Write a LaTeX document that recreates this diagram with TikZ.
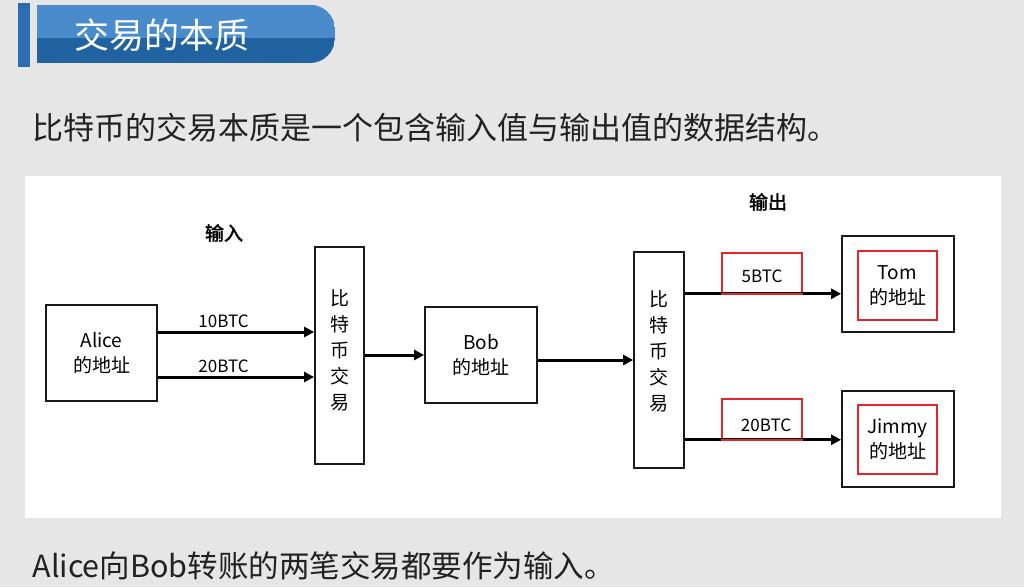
\documentclass[tikz,border=0pt]{standalone}
\usepackage{fontspec}
\newfontfamily\cjk[AutoFakeBold=2]{Noto Sans CJK SC}
\usetikzlibrary{arrows.meta}
\definecolor{bg}{HTML}{E6E6E6}
\definecolor{barlight}{HTML}{4A8CCB}
\definecolor{bardark}{HTML}{2163A1}
\definecolor{barside}{HTML}{2B6DAE}
\definecolor{redline}{HTML}{E8242B}
\definecolor{txt}{HTML}{222222}
\begin{document}
\begin{tikzpicture}[x=1pt,y=-1pt,font=\cjk,
  box/.style={draw=black!90,line width=1.8pt,inner sep=0pt,align=center,
    font=\cjk\fontsize{19}{25}\selectfont},
  vtext/.style={inner sep=0pt,align=center,font=\cjk\fontsize{19}{25}\selectfont},
  redbox/.style={draw=redline,line width=1.5pt,inner sep=0pt,align=center,
    font=\cjk\fontsize{19}{25}\selectfont},
  arr/.style={line width=3pt,-{Triangle[length=10pt,width=10pt]}},
  lbl/.style={font=\cjk\fontsize{17}{22}\selectfont,inner sep=1pt},
  head/.style={font=\cjk\bfseries\fontsize{19}{22}\selectfont}]
\useasboundingbox (0,0) rectangle (1024,587);
\fill[bg] (0,0) rectangle (1024,587);
% title bar
\fill[barside] (18,3) rectangle (30,67);
\begin{scope}
  \clip (37,5) [rounded corners=25pt] -- (335,5) -- (335,63) [sharp corners] -- (37,63) -- cycle;
  \fill[bardark] (37,5) rectangle (335,63);
  \fill[barlight] (37,5) rectangle (335,38);
\end{scope}
\node[anchor=west,text=white,font=\cjk\fontsize{35}{35}\selectfont] (title) at (71,35) {交易的本质};
\node[anchor=west,text=txt,font=\cjk\fontsize{31}{31}\selectfont] (sub) at (29,128) {比特币的交易本质是一个包含输入值与输出值的数据结构。};
% panel
\fill[white] (25,176) rectangle (1001,518);
% headings
\node[head] (in) at (224,233) {输入};
\node[head] (out) at (768,202) {输出};
% boxes
\node[box,minimum width=111pt,minimum height=96pt] (alice) at (101.5,353) {Alice\\的地址};
\node[box,minimum width=49pt,minimum height=217pt] (tx1) at (339.5,355.5) {};
\node[vtext] (tx1t) at (339.5,350) {比\\[1pt]特\\[1pt]币\\[1pt]交\\[1pt]易};
\node[box,minimum width=112pt,minimum height=96pt] (bob) at (481,355) {Bob\\的地址};
\node[box,minimum width=50pt,minimum height=216pt] (tx2) at (659,360) {};
\node[vtext] (tx2t) at (659,351) {比\\[1pt]特\\[1pt]币\\[1pt]交\\[1pt]易};
\node[box,minimum width=112pt,minimum height=96pt] (tom) at (898,284) {};
\node[redbox,minimum width=79pt,minimum height=69pt] (tomin) at (897.5,285.5) {Tom\\的地址};
\node[box,minimum width=112pt,minimum height=96pt] (jimmy) at (898,439) {};
\node[redbox,minimum width=79pt,minimum height=69pt] (jimmyin) at (897.5,439.5) {Jimmy\\的地址};
\node[redbox,minimum width=80pt,minimum height=40pt] (r5) at (762,273) {};
\node[lbl] (t5) at (762,276) {5BTC};
\node[redbox,minimum width=80pt,minimum height=40pt] (r20) at (762,419) {};
\node[lbl] (t20) at (766,425) {20BTC};
% connectors
\coordinate (a1) at ([yshift=21pt]alice.east);
\coordinate (a2) at ([yshift=-24pt]alice.east);
\draw[arr] (a1) -- node[lbl,above=2pt,pos=0.42] (l10) {10BTC} (a1 -| tx1.west);
\draw[arr] (a2) -- node[lbl,above=2pt,pos=0.42] (l20) {20BTC} (a2 -| tx1.west);
\draw[arr] (tx1.east |- bob.west) -- (bob.west);
\draw[arr] (bob.east |- tx2.west) -- (tx2.west);
\draw[arr] (tx2.east |- r5.south) -- (tom.west |- r5.south);
\draw[arr] (tx2.east |- r20.south) -- (jimmy.west |- r20.south);
\draw[redline,line width=1.5pt] (r5.south west) -- (r5.south east);
\draw[redline,line width=1.5pt] (r20.south west) -- (r20.south east);
% bottom
\node[anchor=west,text=txt,font=\cjk\fontsize{30.5}{31}\selectfont] (note) at (29,566) {Alice向Bob转账的两笔交易都要作为输入。};
\end{tikzpicture}
\end{document}
